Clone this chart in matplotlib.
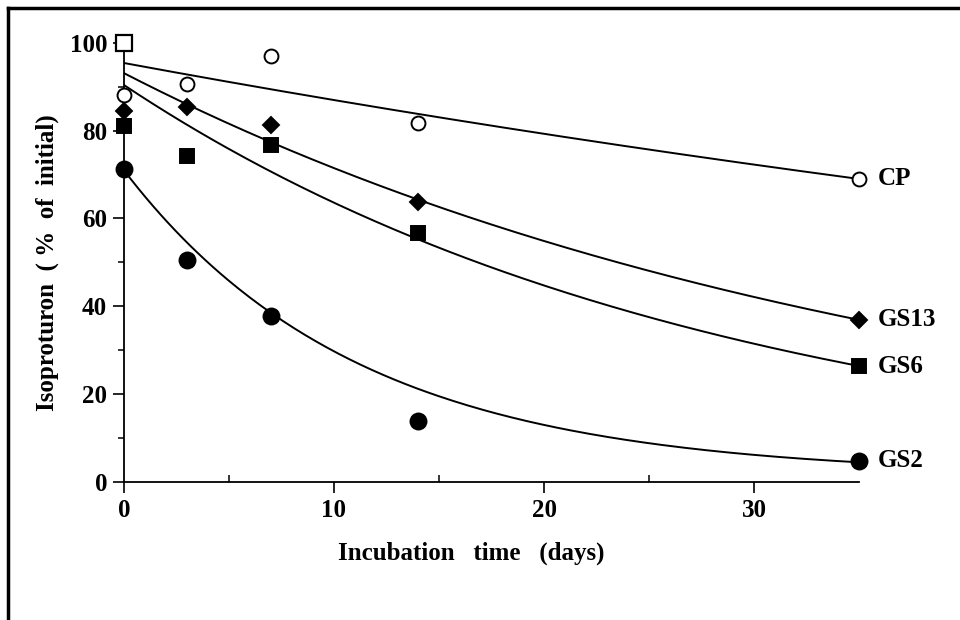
import numpy as np
import matplotlib
matplotlib.use("Agg")
import matplotlib.pyplot as plt
from matplotlib.lines import Line2D

plt.rcParams['font.family'] = ['Liberation Serif', 'DejaVu Serif']
plt.rcParams['font.weight'] = 'bold'

# ---------- data ----------
days = [0, 3, 7, 14, 35]
cp = [88.2, 90.6, 96.9, 81.8, 69.0]
gs13 = [84.4, 85.3, 81.3, 63.8, 36.9]
gs6 = [81.1, 74.3, 76.8, 56.6, 26.4]
gs2 = [71.2, 50.6, 37.8, 13.9, 4.8]
# extra open square at day 0
ref_day = [0]
ref_val = [100]

# decay fits drawn in the figure: C = a * exp(-k t) + c
fit_a = {'CP': 95.4, 'GS13': 93.1, 'GS6': 90.4, 'GS2': 69.5}
fit_k = {'CP': 0.00926, 'GS13': 0.02644, 'GS6': 0.03517, 'GS2': 0.090}
fit_c = {'CP': 0.0, 'GS13': 0.0, 'GS6': 0.0, 'GS2': 1.5}

series = [
    ('CP', cp, 'o', 'white', 10),
    ('GS13', gs13, 'D', 'black', 8),
    ('GS6', gs6, 's', 'black', 10.5),
    ('GS2', gs2, 'o', 'black', 11.5),
]

fig = plt.figure(figsize=(9.6, 6.2), dpi=100)
ax = fig.add_axes([0.129, 0.2226, 0.766, 0.7084])

t = np.linspace(0, 35, 200)
for name, vals, mk, fc, ms in series:
    ax.plot(t, fit_a[name] * np.exp(-fit_k[name] * t) + fit_c[name],
            color='black', lw=1.4, zorder=2)
    ax.plot(days, vals, linestyle='none', marker=mk, markerfacecolor=fc,
            markeredgecolor='black', markersize=ms, markeredgewidth=1.4,
            clip_on=False, zorder=3)
    ax.annotate(name, xy=(days[-1], vals[-1]), xytext=(13, 0), textcoords='offset points',
                va='center', ha='left', fontsize=18, fontweight='bold')

ax.plot(ref_day, ref_val, linestyle='none', marker='s', markerfacecolor='white',
        markeredgecolor='black', markersize=11, markeredgewidth=1.6, clip_on=False, zorder=4)

ax.set_xlim(0, 35)
ax.set_ylim(0, 100)
ax.spines['top'].set_visible(False)
ax.spines['right'].set_visible(False)
for s in ['left', 'bottom']:
    ax.spines[s].set_linewidth(1.3)

ax.set_xticks([0, 10, 20, 30])
ax.set_xticks([5, 15, 25], minor=True)
ax.set_yticks([0, 20, 40, 60, 80, 100])
ax.set_yticks([10, 30, 50, 70, 90], minor=True)
ax.tick_params(axis='both', which='major', direction='out', length=8, width=1.2,
               labelsize=18, pad=4)
ax.tick_params(axis='x', which='minor', direction='in', length=5, width=1.1)
ax.tick_params(axis='y', which='minor', direction='out', length=4, width=1.1)
for lab in ax.get_xticklabels() + ax.get_yticklabels():
    lab.set_fontweight('bold')

ax.set_xlabel("Incubation   time   (days)", fontsize=18, fontweight='bold')
ax.xaxis.set_label_coords(0.472, -0.135)
ax.set_ylabel("Isoproturon  ( %  of  initial)", fontsize=18, fontweight='bold', labelpad=8)

# scanned page frame: top and left edges
fig.add_artist(Line2D([8 / 960, 8 / 960], [0, 1 - 8 / 620], color='black', lw=2.5,
                      transform=fig.transFigure))
fig.add_artist(Line2D([8 / 960, 1], [1 - 8 / 620, 1 - 8 / 620], color='black', lw=2.5,
                      transform=fig.transFigure))

fig.savefig("out.png", dpi=100)
